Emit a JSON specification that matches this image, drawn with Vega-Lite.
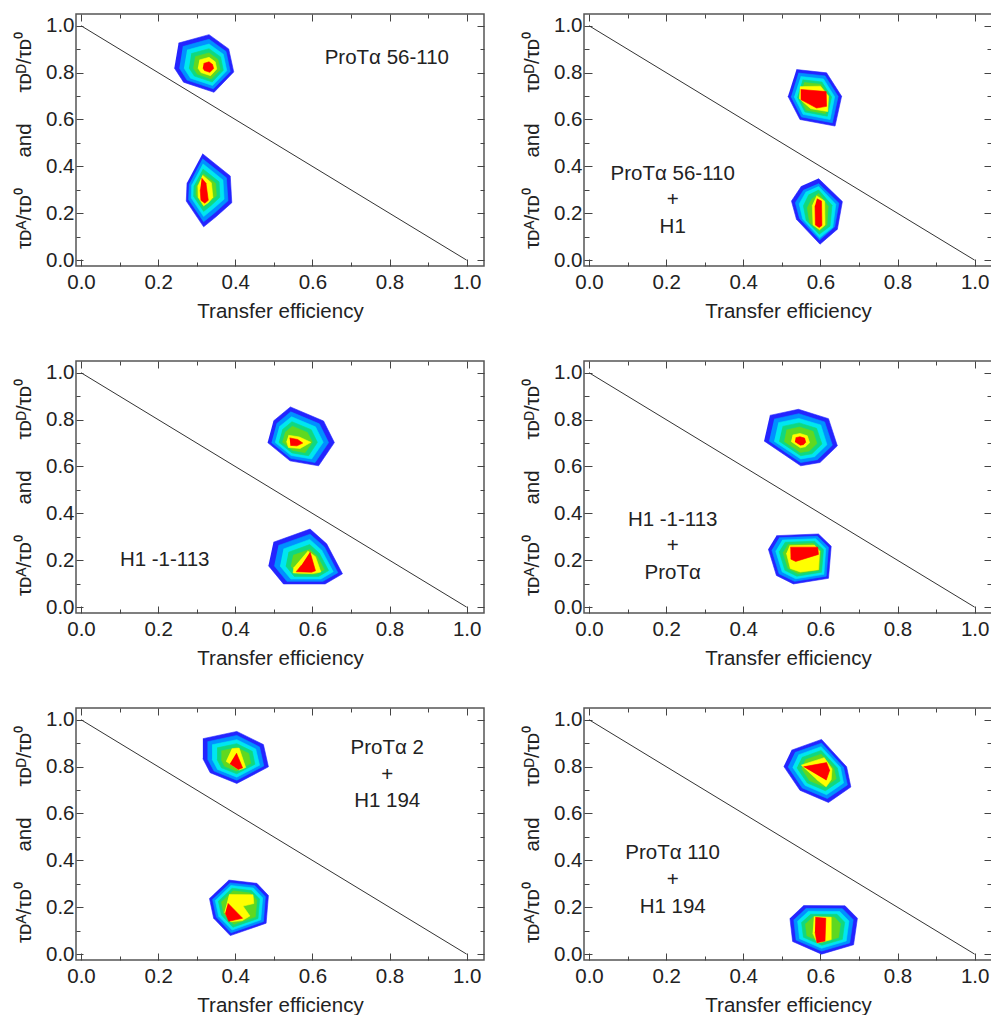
{
"$schema": "https://vega.github.io/schema/vega-lite/v6.json",
"padding": {"left": 13, "top": 12, "right": 0, "bottom": 0},
"background": "white",
"config": {
 "view": {"stroke": "#555", "strokeWidth": 1.5},
 "font": "Liberation Sans",
 "axis": {"domain": false, "grid": false, "labelFontSize": 20.5, "titleFontSize": 20.5, "titleFontWeight": "normal", "labelColor": "#222", "titleColor": "#222", "tickColor": "#444", "tickWidth": 1, "labelFlush": false, "labelOverlap": false, "labelFont": "Liberation Sans", "titleFont": "Liberation Sans"}
},
"datasets": {
 "diag": [{"x": 0, "y": 1}, {"x": 1, "y": 0}],
 "labels": [
  {"p": 1, "x": 0.793, "y": 0.862, "t": "ProTα 56-110"},
  {"p": 2, "x": 0.217, "y": 0.369, "t": "ProTα 56-110\n+\nH1"},
  {"p": 3, "x": 0.217, "y": 0.199, "t": "H1 -1-113"},
  {"p": 4, "x": 0.217, "y": 0.373, "t": "H1 -1-113\n+\nProTα"},
  {"p": 5, "x": 0.794, "y": 0.879, "t": "ProTα 2\n+\nH1 194"},
  {"p": 6, "x": 0.217, "y": 0.430, "t": "ProTα 110\n+\nH1 194"}
 ],
 "blobs": [
{"p":1,"b":1,"l":1,"i":0,"x":0.253,"y":0.926},{"p":1,"b":1,"l":1,"i":1,"x":0.332,"y":0.962},{"p":1,"b":1,"l":1,"i":2,"x":0.383,"y":0.901},{"p":1,"b":1,"l":1,"i":3,"x":0.396,"y":0.803},{"p":1,"b":1,"l":1,"i":4,"x":0.345,"y":0.716},{"p":1,"b":1,"l":1,"i":5,"x":0.266,"y":0.759},{"p":1,"b":1,"l":1,"i":6,"x":0.242,"y":0.820},
{"p":1,"b":1,"l":2,"i":0,"x":0.264,"y":0.911},{"p":1,"b":1,"l":2,"i":1,"x":0.332,"y":0.942},{"p":1,"b":1,"l":2,"i":2,"x":0.376,"y":0.890},{"p":1,"b":1,"l":2,"i":3,"x":0.387,"y":0.805},{"p":1,"b":1,"l":2,"i":4,"x":0.343,"y":0.731},{"p":1,"b":1,"l":2,"i":5,"x":0.275,"y":0.768},{"p":1,"b":1,"l":2,"i":6,"x":0.255,"y":0.820},
{"p":1,"b":1,"l":3,"i":0,"x":0.275,"y":0.896},{"p":1,"b":1,"l":3,"i":1,"x":0.332,"y":0.922},{"p":1,"b":1,"l":3,"i":2,"x":0.369,"y":0.878},{"p":1,"b":1,"l":3,"i":3,"x":0.378,"y":0.808},{"p":1,"b":1,"l":3,"i":4,"x":0.341,"y":0.745},{"p":1,"b":1,"l":3,"i":5,"x":0.284,"y":0.776},{"p":1,"b":1,"l":3,"i":6,"x":0.267,"y":0.820},
{"p":1,"b":1,"l":4,"i":0,"x":0.286,"y":0.881},{"p":1,"b":1,"l":4,"i":1,"x":0.332,"y":0.902},{"p":1,"b":1,"l":4,"i":2,"x":0.362,"y":0.867},{"p":1,"b":1,"l":4,"i":3,"x":0.369,"y":0.810},{"p":1,"b":1,"l":4,"i":4,"x":0.340,"y":0.760},{"p":1,"b":1,"l":4,"i":5,"x":0.294,"y":0.785},{"p":1,"b":1,"l":4,"i":6,"x":0.280,"y":0.820},
{"p":1,"b":1,"l":5,"i":0,"x":0.296,"y":0.868},{"p":1,"b":1,"l":5,"i":1,"x":0.332,"y":0.884},{"p":1,"b":1,"l":5,"i":2,"x":0.355,"y":0.856},{"p":1,"b":1,"l":5,"i":3,"x":0.361,"y":0.812},{"p":1,"b":1,"l":5,"i":4,"x":0.338,"y":0.773},{"p":1,"b":1,"l":5,"i":5,"x":0.302,"y":0.793},{"p":1,"b":1,"l":5,"i":6,"x":0.291,"y":0.820},
{"p":1,"b":1,"l":6,"i":0,"x":0.307,"y":0.854},{"p":1,"b":1,"l":6,"i":1,"x":0.332,"y":0.865},{"p":1,"b":1,"l":6,"i":2,"x":0.348,"y":0.846},{"p":1,"b":1,"l":6,"i":3,"x":0.352,"y":0.815},{"p":1,"b":1,"l":6,"i":4,"x":0.336,"y":0.787},{"p":1,"b":1,"l":6,"i":5,"x":0.311,"y":0.800},{"p":1,"b":1,"l":6,"i":6,"x":0.303,"y":0.820},
{"p":1,"b":1,"l":7,"i":0,"x":0.318,"y":0.839},{"p":1,"b":1,"l":7,"i":1,"x":0.332,"y":0.846},{"p":1,"b":1,"l":7,"i":2,"x":0.341,"y":0.835},{"p":1,"b":1,"l":7,"i":3,"x":0.344,"y":0.817},{"p":1,"b":1,"l":7,"i":4,"x":0.334,"y":0.801},{"p":1,"b":1,"l":7,"i":5,"x":0.320,"y":0.809},{"p":1,"b":1,"l":7,"i":6,"x":0.316,"y":0.820},
{"p":1,"b":2,"l":1,"i":0,"x":0.315,"y":0.454},{"p":1,"b":2,"l":1,"i":1,"x":0.387,"y":0.359},{"p":1,"b":2,"l":1,"i":2,"x":0.391,"y":0.245},{"p":1,"b":2,"l":1,"i":3,"x":0.350,"y":0.185},{"p":1,"b":2,"l":1,"i":4,"x":0.318,"y":0.142},{"p":1,"b":2,"l":1,"i":5,"x":0.273,"y":0.252},{"p":1,"b":2,"l":1,"i":6,"x":0.275,"y":0.330},
{"p":1,"b":2,"l":2,"i":0,"x":0.315,"y":0.432},{"p":1,"b":2,"l":2,"i":1,"x":0.377,"y":0.351},{"p":1,"b":2,"l":2,"i":2,"x":0.381,"y":0.253},{"p":1,"b":2,"l":2,"i":3,"x":0.346,"y":0.201},{"p":1,"b":2,"l":2,"i":4,"x":0.318,"y":0.164},{"p":1,"b":2,"l":2,"i":5,"x":0.279,"y":0.259},{"p":1,"b":2,"l":2,"i":6,"x":0.281,"y":0.326},
{"p":1,"b":2,"l":3,"i":0,"x":0.316,"y":0.411},{"p":1,"b":2,"l":3,"i":1,"x":0.368,"y":0.342},{"p":1,"b":2,"l":3,"i":2,"x":0.371,"y":0.260},{"p":1,"b":2,"l":3,"i":3,"x":0.341,"y":0.217},{"p":1,"b":2,"l":3,"i":4,"x":0.318,"y":0.186},{"p":1,"b":2,"l":3,"i":5,"x":0.286,"y":0.265},{"p":1,"b":2,"l":3,"i":6,"x":0.287,"y":0.322},
{"p":1,"b":2,"l":4,"i":0,"x":0.316,"y":0.389},{"p":1,"b":2,"l":4,"i":1,"x":0.358,"y":0.334},{"p":1,"b":2,"l":4,"i":2,"x":0.360,"y":0.268},{"p":1,"b":2,"l":4,"i":3,"x":0.337,"y":0.233},{"p":1,"b":2,"l":4,"i":4,"x":0.318,"y":0.208},{"p":1,"b":2,"l":4,"i":5,"x":0.292,"y":0.272},{"p":1,"b":2,"l":4,"i":6,"x":0.293,"y":0.317},
{"p":1,"b":2,"l":5,"i":0,"x":0.317,"y":0.369},{"p":1,"b":2,"l":5,"i":1,"x":0.349,"y":0.327},{"p":1,"b":2,"l":5,"i":2,"x":0.351,"y":0.275},{"p":1,"b":2,"l":5,"i":3,"x":0.332,"y":0.248},{"p":1,"b":2,"l":5,"i":4,"x":0.318,"y":0.229},{"p":1,"b":2,"l":5,"i":5,"x":0.298,"y":0.278},{"p":1,"b":2,"l":5,"i":6,"x":0.299,"y":0.314},
{"p":1,"b":2,"l":6,"i":0,"x":0.315,"y":0.362},{"p":1,"b":2,"l":6,"i":1,"x":0.338,"y":0.330},{"p":1,"b":2,"l":6,"i":2,"x":0.342,"y":0.268},{"p":1,"b":2,"l":6,"i":3,"x":0.330,"y":0.245},{"p":1,"b":2,"l":6,"i":4,"x":0.318,"y":0.232},{"p":1,"b":2,"l":6,"i":5,"x":0.304,"y":0.268},{"p":1,"b":2,"l":6,"i":6,"x":0.303,"y":0.318},
{"p":1,"b":2,"l":7,"i":0,"x":0.313,"y":0.350},{"p":1,"b":2,"l":7,"i":1,"x":0.324,"y":0.328},{"p":1,"b":2,"l":7,"i":2,"x":0.330,"y":0.255},{"p":1,"b":2,"l":7,"i":3,"x":0.321,"y":0.243},{"p":1,"b":2,"l":7,"i":4,"x":0.311,"y":0.255},{"p":1,"b":2,"l":7,"i":5,"x":0.309,"y":0.300},
{"p":2,"b":1,"l":1,"i":0,"x":0.538,"y":0.813},{"p":2,"b":1,"l":1,"i":1,"x":0.616,"y":0.799},{"p":2,"b":1,"l":1,"i":2,"x":0.655,"y":0.699},{"p":2,"b":1,"l":1,"i":3,"x":0.638,"y":0.572},{"p":2,"b":1,"l":1,"i":4,"x":0.547,"y":0.600},{"p":2,"b":1,"l":1,"i":5,"x":0.516,"y":0.699},
{"p":2,"b":1,"l":2,"i":0,"x":0.543,"y":0.798},{"p":2,"b":1,"l":2,"i":1,"x":0.612,"y":0.786},{"p":2,"b":1,"l":2,"i":2,"x":0.646,"y":0.698},{"p":2,"b":1,"l":2,"i":3,"x":0.631,"y":0.586},{"p":2,"b":1,"l":2,"i":4,"x":0.551,"y":0.611},{"p":2,"b":1,"l":2,"i":5,"x":0.524,"y":0.698},
{"p":2,"b":1,"l":3,"i":0,"x":0.549,"y":0.783},{"p":2,"b":1,"l":3,"i":1,"x":0.608,"y":0.773},{"p":2,"b":1,"l":3,"i":2,"x":0.637,"y":0.697},{"p":2,"b":1,"l":3,"i":3,"x":0.625,"y":0.600},{"p":2,"b":1,"l":3,"i":4,"x":0.555,"y":0.622},{"p":2,"b":1,"l":3,"i":5,"x":0.532,"y":0.697},
{"p":2,"b":1,"l":4,"i":0,"x":0.554,"y":0.769},{"p":2,"b":1,"l":4,"i":1,"x":0.604,"y":0.760},{"p":2,"b":1,"l":4,"i":2,"x":0.629,"y":0.696},{"p":2,"b":1,"l":4,"i":3,"x":0.618,"y":0.614},{"p":2,"b":1,"l":4,"i":4,"x":0.560,"y":0.632},{"p":2,"b":1,"l":4,"i":5,"x":0.540,"y":0.696},
{"p":2,"b":1,"l":5,"i":0,"x":0.558,"y":0.758},{"p":2,"b":1,"l":5,"i":1,"x":0.601,"y":0.750},{"p":2,"b":1,"l":5,"i":2,"x":0.622,"y":0.695},{"p":2,"b":1,"l":5,"i":3,"x":0.613,"y":0.625},{"p":2,"b":1,"l":5,"i":4,"x":0.563,"y":0.640},{"p":2,"b":1,"l":5,"i":5,"x":0.546,"y":0.695},
{"p":2,"b":1,"l":6,"i":0,"x":0.547,"y":0.740},{"p":2,"b":1,"l":6,"i":1,"x":0.600,"y":0.742},{"p":2,"b":1,"l":6,"i":2,"x":0.621,"y":0.700},{"p":2,"b":1,"l":6,"i":3,"x":0.619,"y":0.634},{"p":2,"b":1,"l":6,"i":4,"x":0.575,"y":0.646},{"p":2,"b":1,"l":6,"i":5,"x":0.545,"y":0.690},
{"p":2,"b":1,"l":7,"i":0,"x":0.549,"y":0.728},{"p":2,"b":1,"l":7,"i":1,"x":0.615,"y":0.719},{"p":2,"b":1,"l":7,"i":2,"x":0.616,"y":0.656},{"p":2,"b":1,"l":7,"i":3,"x":0.590,"y":0.649},{"p":2,"b":1,"l":7,"i":4,"x":0.549,"y":0.685},
{"p":2,"b":2,"l":1,"i":0,"x":0.595,"y":0.348},{"p":2,"b":2,"l":1,"i":1,"x":0.657,"y":0.250},{"p":2,"b":2,"l":1,"i":2,"x":0.644,"y":0.132},{"p":2,"b":2,"l":1,"i":3,"x":0.599,"y":0.068},{"p":2,"b":2,"l":1,"i":4,"x":0.538,"y":0.174},{"p":2,"b":2,"l":1,"i":5,"x":0.525,"y":0.252},{"p":2,"b":2,"l":1,"i":6,"x":0.551,"y":0.316},
{"p":2,"b":2,"l":2,"i":0,"x":0.595,"y":0.327},{"p":2,"b":2,"l":2,"i":1,"x":0.648,"y":0.243},{"p":2,"b":2,"l":2,"i":2,"x":0.637,"y":0.142},{"p":2,"b":2,"l":2,"i":3,"x":0.598,"y":0.086},{"p":2,"b":2,"l":2,"i":4,"x":0.546,"y":0.178},{"p":2,"b":2,"l":2,"i":5,"x":0.535,"y":0.245},{"p":2,"b":2,"l":2,"i":6,"x":0.557,"y":0.300},
{"p":2,"b":2,"l":3,"i":0,"x":0.595,"y":0.315},{"p":2,"b":2,"l":3,"i":1,"x":0.640,"y":0.238},{"p":2,"b":2,"l":3,"i":2,"x":0.632,"y":0.140},{"p":2,"b":2,"l":3,"i":3,"x":0.598,"y":0.095},{"p":2,"b":2,"l":3,"i":4,"x":0.554,"y":0.176},{"p":2,"b":2,"l":3,"i":5,"x":0.545,"y":0.240},{"p":2,"b":2,"l":3,"i":6,"x":0.563,"y":0.292},
{"p":2,"b":2,"l":4,"i":0,"x":0.595,"y":0.300},{"p":2,"b":2,"l":4,"i":1,"x":0.630,"y":0.234},{"p":2,"b":2,"l":4,"i":2,"x":0.625,"y":0.145},{"p":2,"b":2,"l":4,"i":3,"x":0.597,"y":0.110},{"p":2,"b":2,"l":4,"i":4,"x":0.563,"y":0.170},{"p":2,"b":2,"l":4,"i":5,"x":0.556,"y":0.232},{"p":2,"b":2,"l":4,"i":6,"x":0.570,"y":0.280},
{"p":2,"b":2,"l":5,"i":0,"x":0.595,"y":0.285},{"p":2,"b":2,"l":5,"i":1,"x":0.620,"y":0.230},{"p":2,"b":2,"l":5,"i":2,"x":0.617,"y":0.150},{"p":2,"b":2,"l":5,"i":3,"x":0.597,"y":0.125},{"p":2,"b":2,"l":5,"i":4,"x":0.572,"y":0.160},{"p":2,"b":2,"l":5,"i":5,"x":0.566,"y":0.223},{"p":2,"b":2,"l":5,"i":6,"x":0.578,"y":0.262},
{"p":2,"b":2,"l":6,"i":0,"x":0.590,"y":0.275},{"p":2,"b":2,"l":6,"i":1,"x":0.611,"y":0.252},{"p":2,"b":2,"l":6,"i":2,"x":0.612,"y":0.150},{"p":2,"b":2,"l":6,"i":3,"x":0.598,"y":0.130},{"p":2,"b":2,"l":6,"i":4,"x":0.581,"y":0.150},{"p":2,"b":2,"l":6,"i":5,"x":0.579,"y":0.235},
{"p":2,"b":2,"l":7,"i":0,"x":0.591,"y":0.262},{"p":2,"b":2,"l":7,"i":1,"x":0.603,"y":0.252},{"p":2,"b":2,"l":7,"i":2,"x":0.604,"y":0.148},{"p":2,"b":2,"l":7,"i":3,"x":0.597,"y":0.139},{"p":2,"b":2,"l":7,"i":4,"x":0.587,"y":0.150},{"p":2,"b":2,"l":7,"i":5,"x":0.586,"y":0.232},
{"p":3,"b":1,"l":1,"i":0,"x":0.499,"y":0.794},{"p":3,"b":1,"l":1,"i":1,"x":0.543,"y":0.854},{"p":3,"b":1,"l":1,"i":2,"x":0.629,"y":0.794},{"p":3,"b":1,"l":1,"i":3,"x":0.657,"y":0.702},{"p":3,"b":1,"l":1,"i":4,"x":0.616,"y":0.603},{"p":3,"b":1,"l":1,"i":5,"x":0.542,"y":0.624},{"p":3,"b":1,"l":1,"i":6,"x":0.484,"y":0.702},
{"p":3,"b":1,"l":2,"i":0,"x":0.507,"y":0.782},{"p":3,"b":1,"l":2,"i":1,"x":0.544,"y":0.833},{"p":3,"b":1,"l":2,"i":2,"x":0.618,"y":0.782},{"p":3,"b":1,"l":2,"i":3,"x":0.642,"y":0.702},{"p":3,"b":1,"l":2,"i":4,"x":0.607,"y":0.617},{"p":3,"b":1,"l":2,"i":5,"x":0.544,"y":0.635},{"p":3,"b":1,"l":2,"i":6,"x":0.494,"y":0.702},
{"p":3,"b":1,"l":3,"i":0,"x":0.514,"y":0.769},{"p":3,"b":1,"l":3,"i":1,"x":0.546,"y":0.812},{"p":3,"b":1,"l":3,"i":2,"x":0.608,"y":0.769},{"p":3,"b":1,"l":3,"i":3,"x":0.628,"y":0.703},{"p":3,"b":1,"l":3,"i":4,"x":0.598,"y":0.632},{"p":3,"b":1,"l":3,"i":5,"x":0.545,"y":0.647},{"p":3,"b":1,"l":3,"i":6,"x":0.503,"y":0.703},
{"p":3,"b":1,"l":4,"i":0,"x":0.522,"y":0.757},{"p":3,"b":1,"l":4,"i":1,"x":0.547,"y":0.791},{"p":3,"b":1,"l":4,"i":2,"x":0.597,"y":0.757},{"p":3,"b":1,"l":4,"i":3,"x":0.613,"y":0.703},{"p":3,"b":1,"l":4,"i":4,"x":0.590,"y":0.646},{"p":3,"b":1,"l":4,"i":5,"x":0.547,"y":0.658},{"p":3,"b":1,"l":4,"i":6,"x":0.513,"y":0.703},
{"p":3,"b":1,"l":5,"i":0,"x":0.529,"y":0.745},{"p":3,"b":1,"l":5,"i":1,"x":0.548,"y":0.772},{"p":3,"b":1,"l":5,"i":2,"x":0.587,"y":0.745},{"p":3,"b":1,"l":5,"i":3,"x":0.600,"y":0.704},{"p":3,"b":1,"l":5,"i":4,"x":0.581,"y":0.659},{"p":3,"b":1,"l":5,"i":5,"x":0.548,"y":0.669},{"p":3,"b":1,"l":5,"i":6,"x":0.522,"y":0.704},
{"p":3,"b":1,"l":6,"i":0,"x":0.538,"y":0.733},{"p":3,"b":1,"l":6,"i":1,"x":0.566,"y":0.726},{"p":3,"b":1,"l":6,"i":2,"x":0.596,"y":0.703},{"p":3,"b":1,"l":6,"i":3,"x":0.568,"y":0.677},{"p":3,"b":1,"l":6,"i":4,"x":0.538,"y":0.681},{"p":3,"b":1,"l":6,"i":5,"x":0.533,"y":0.707},
{"p":3,"b":1,"l":7,"i":0,"x":0.541,"y":0.722},{"p":3,"b":1,"l":7,"i":1,"x":0.562,"y":0.715},{"p":3,"b":1,"l":7,"i":2,"x":0.575,"y":0.700},{"p":3,"b":1,"l":7,"i":3,"x":0.560,"y":0.688},{"p":3,"b":1,"l":7,"i":4,"x":0.543,"y":0.690},
{"p":3,"b":2,"l":1,"i":0,"x":0.499,"y":0.277},{"p":3,"b":2,"l":1,"i":1,"x":0.594,"y":0.333},{"p":3,"b":2,"l":1,"i":2,"x":0.637,"y":0.270},{"p":3,"b":2,"l":1,"i":3,"x":0.678,"y":0.142},{"p":3,"b":2,"l":1,"i":4,"x":0.633,"y":0.099},{"p":3,"b":2,"l":1,"i":5,"x":0.525,"y":0.099},{"p":3,"b":2,"l":1,"i":6,"x":0.486,"y":0.177},
{"p":3,"b":2,"l":2,"i":0,"x":0.512,"y":0.263},{"p":3,"b":2,"l":2,"i":1,"x":0.594,"y":0.311},{"p":3,"b":2,"l":2,"i":2,"x":0.631,"y":0.257},{"p":3,"b":2,"l":2,"i":3,"x":0.666,"y":0.147},{"p":3,"b":2,"l":2,"i":4,"x":0.627,"y":0.110},{"p":3,"b":2,"l":2,"i":5,"x":0.534,"y":0.110},{"p":3,"b":2,"l":2,"i":6,"x":0.501,"y":0.177},
{"p":3,"b":2,"l":3,"i":0,"x":0.525,"y":0.248},{"p":3,"b":2,"l":3,"i":1,"x":0.593,"y":0.289},{"p":3,"b":2,"l":3,"i":2,"x":0.624,"y":0.243},{"p":3,"b":2,"l":3,"i":3,"x":0.654,"y":0.151},{"p":3,"b":2,"l":3,"i":4,"x":0.622,"y":0.120},{"p":3,"b":2,"l":3,"i":5,"x":0.544,"y":0.120},{"p":3,"b":2,"l":3,"i":6,"x":0.516,"y":0.176},
{"p":3,"b":2,"l":4,"i":0,"x":0.538,"y":0.234},{"p":3,"b":2,"l":4,"i":1,"x":0.593,"y":0.267},{"p":3,"b":2,"l":4,"i":2,"x":0.618,"y":0.230},{"p":3,"b":2,"l":4,"i":3,"x":0.642,"y":0.156},{"p":3,"b":2,"l":4,"i":4,"x":0.616,"y":0.131},{"p":3,"b":2,"l":4,"i":5,"x":0.553,"y":0.131},{"p":3,"b":2,"l":4,"i":6,"x":0.531,"y":0.176},
{"p":3,"b":2,"l":5,"i":0,"x":0.550,"y":0.221},{"p":3,"b":2,"l":5,"i":1,"x":0.593,"y":0.246},{"p":3,"b":2,"l":5,"i":2,"x":0.612,"y":0.218},{"p":3,"b":2,"l":5,"i":3,"x":0.631,"y":0.160},{"p":3,"b":2,"l":5,"i":4,"x":0.610,"y":0.141},{"p":3,"b":2,"l":5,"i":5,"x":0.562,"y":0.141},{"p":3,"b":2,"l":5,"i":6,"x":0.544,"y":0.176},
{"p":3,"b":2,"l":6,"i":0,"x":0.588,"y":0.240},{"p":3,"b":2,"l":6,"i":1,"x":0.608,"y":0.215},{"p":3,"b":2,"l":6,"i":2,"x":0.622,"y":0.150},{"p":3,"b":2,"l":6,"i":3,"x":0.600,"y":0.143},{"p":3,"b":2,"l":6,"i":4,"x":0.550,"y":0.146},{"p":3,"b":2,"l":6,"i":5,"x":0.552,"y":0.170},
{"p":3,"b":2,"l":7,"i":0,"x":0.594,"y":0.235},{"p":3,"b":2,"l":7,"i":1,"x":0.608,"y":0.155},{"p":3,"b":2,"l":7,"i":2,"x":0.598,"y":0.149},{"p":3,"b":2,"l":7,"i":3,"x":0.558,"y":0.151},{"p":3,"b":2,"l":7,"i":4,"x":0.572,"y":0.180},
{"p":4,"b":1,"l":1,"i":0,"x":0.469,"y":0.818},{"p":4,"b":1,"l":1,"i":1,"x":0.543,"y":0.844},{"p":4,"b":1,"l":1,"i":2,"x":0.621,"y":0.804},{"p":4,"b":1,"l":1,"i":3,"x":0.644,"y":0.688},{"p":4,"b":1,"l":1,"i":4,"x":0.599,"y":0.617},{"p":4,"b":1,"l":1,"i":5,"x":0.549,"y":0.603},{"p":4,"b":1,"l":1,"i":6,"x":0.454,"y":0.709},
{"p":4,"b":1,"l":2,"i":0,"x":0.480,"y":0.802},{"p":4,"b":1,"l":2,"i":1,"x":0.544,"y":0.825},{"p":4,"b":1,"l":2,"i":2,"x":0.611,"y":0.790},{"p":4,"b":1,"l":2,"i":3,"x":0.631,"y":0.691},{"p":4,"b":1,"l":2,"i":4,"x":0.592,"y":0.629},{"p":4,"b":1,"l":2,"i":5,"x":0.549,"y":0.617},{"p":4,"b":1,"l":2,"i":6,"x":0.467,"y":0.709},
{"p":4,"b":1,"l":3,"i":0,"x":0.491,"y":0.787},{"p":4,"b":1,"l":3,"i":1,"x":0.544,"y":0.805},{"p":4,"b":1,"l":3,"i":2,"x":0.601,"y":0.777},{"p":4,"b":1,"l":3,"i":3,"x":0.617,"y":0.693},{"p":4,"b":1,"l":3,"i":4,"x":0.585,"y":0.642},{"p":4,"b":1,"l":3,"i":5,"x":0.549,"y":0.632},{"p":4,"b":1,"l":3,"i":6,"x":0.480,"y":0.708},
{"p":4,"b":1,"l":4,"i":0,"x":0.502,"y":0.771},{"p":4,"b":1,"l":4,"i":1,"x":0.545,"y":0.786},{"p":4,"b":1,"l":4,"i":2,"x":0.590,"y":0.763},{"p":4,"b":1,"l":4,"i":3,"x":0.604,"y":0.696},{"p":4,"b":1,"l":4,"i":4,"x":0.578,"y":0.654},{"p":4,"b":1,"l":4,"i":5,"x":0.549,"y":0.646},{"p":4,"b":1,"l":4,"i":6,"x":0.493,"y":0.708},
{"p":4,"b":1,"l":5,"i":0,"x":0.512,"y":0.756},{"p":4,"b":1,"l":5,"i":1,"x":0.546,"y":0.768},{"p":4,"b":1,"l":5,"i":2,"x":0.581,"y":0.750},{"p":4,"b":1,"l":5,"i":3,"x":0.591,"y":0.698},{"p":4,"b":1,"l":5,"i":4,"x":0.571,"y":0.666},{"p":4,"b":1,"l":5,"i":5,"x":0.548,"y":0.660},{"p":4,"b":1,"l":5,"i":6,"x":0.506,"y":0.707},
{"p":4,"b":1,"l":6,"i":0,"x":0.528,"y":0.734},{"p":4,"b":1,"l":6,"i":1,"x":0.547,"y":0.741},{"p":4,"b":1,"l":6,"i":2,"x":0.566,"y":0.731},{"p":4,"b":1,"l":6,"i":3,"x":0.572,"y":0.701},{"p":4,"b":1,"l":6,"i":4,"x":0.561,"y":0.684},{"p":4,"b":1,"l":6,"i":5,"x":0.548,"y":0.680},{"p":4,"b":1,"l":6,"i":6,"x":0.524,"y":0.707},
{"p":4,"b":1,"l":7,"i":0,"x":0.536,"y":0.723},{"p":4,"b":1,"l":7,"i":1,"x":0.547,"y":0.727},{"p":4,"b":1,"l":7,"i":2,"x":0.559,"y":0.721},{"p":4,"b":1,"l":7,"i":3,"x":0.562,"y":0.703},{"p":4,"b":1,"l":7,"i":4,"x":0.556,"y":0.693},{"p":4,"b":1,"l":7,"i":5,"x":0.548,"y":0.691},{"p":4,"b":1,"l":7,"i":6,"x":0.534,"y":0.706},
{"p":4,"b":2,"l":1,"i":0,"x":0.486,"y":0.305},{"p":4,"b":2,"l":1,"i":1,"x":0.595,"y":0.312},{"p":4,"b":2,"l":1,"i":2,"x":0.628,"y":0.260},{"p":4,"b":2,"l":1,"i":3,"x":0.621,"y":0.123},{"p":4,"b":2,"l":1,"i":4,"x":0.530,"y":0.099},{"p":4,"b":2,"l":1,"i":5,"x":0.486,"y":0.135},{"p":4,"b":2,"l":1,"i":6,"x":0.465,"y":0.248},
{"p":4,"b":2,"l":2,"i":0,"x":0.493,"y":0.296},{"p":4,"b":2,"l":2,"i":1,"x":0.592,"y":0.302},{"p":4,"b":2,"l":2,"i":2,"x":0.621,"y":0.255},{"p":4,"b":2,"l":2,"i":3,"x":0.615,"y":0.132},{"p":4,"b":2,"l":2,"i":4,"x":0.533,"y":0.110},{"p":4,"b":2,"l":2,"i":5,"x":0.493,"y":0.142},{"p":4,"b":2,"l":2,"i":6,"x":0.474,"y":0.244},
{"p":4,"b":2,"l":3,"i":0,"x":0.501,"y":0.286},{"p":4,"b":2,"l":3,"i":1,"x":0.588,"y":0.292},{"p":4,"b":2,"l":3,"i":2,"x":0.614,"y":0.250},{"p":4,"b":2,"l":3,"i":3,"x":0.609,"y":0.140},{"p":4,"b":2,"l":3,"i":4,"x":0.536,"y":0.121},{"p":4,"b":2,"l":3,"i":5,"x":0.501,"y":0.150},{"p":4,"b":2,"l":3,"i":6,"x":0.484,"y":0.240},
{"p":4,"b":2,"l":4,"i":0,"x":0.508,"y":0.277},{"p":4,"b":2,"l":4,"i":1,"x":0.585,"y":0.281},{"p":4,"b":2,"l":4,"i":2,"x":0.608,"y":0.245},{"p":4,"b":2,"l":4,"i":3,"x":0.603,"y":0.149},{"p":4,"b":2,"l":4,"i":4,"x":0.539,"y":0.132},{"p":4,"b":2,"l":4,"i":5,"x":0.508,"y":0.157},{"p":4,"b":2,"l":4,"i":6,"x":0.493,"y":0.237},
{"p":4,"b":2,"l":5,"i":0,"x":0.516,"y":0.267},{"p":4,"b":2,"l":5,"i":1,"x":0.581,"y":0.271},{"p":4,"b":2,"l":5,"i":2,"x":0.601,"y":0.240},{"p":4,"b":2,"l":5,"i":3,"x":0.597,"y":0.158},{"p":4,"b":2,"l":5,"i":4,"x":0.542,"y":0.143},{"p":4,"b":2,"l":5,"i":5,"x":0.516,"y":0.165},{"p":4,"b":2,"l":5,"i":6,"x":0.503,"y":0.233},
{"p":4,"b":2,"l":6,"i":0,"x":0.520,"y":0.262},{"p":4,"b":2,"l":6,"i":1,"x":0.585,"y":0.264},{"p":4,"b":2,"l":6,"i":2,"x":0.598,"y":0.238},{"p":4,"b":2,"l":6,"i":3,"x":0.595,"y":0.160},{"p":4,"b":2,"l":6,"i":4,"x":0.548,"y":0.150},{"p":4,"b":2,"l":6,"i":5,"x":0.522,"y":0.165},{"p":4,"b":2,"l":6,"i":6,"x":0.512,"y":0.230},
{"p":4,"b":2,"l":7,"i":0,"x":0.522,"y":0.256},{"p":4,"b":2,"l":7,"i":1,"x":0.593,"y":0.256},{"p":4,"b":2,"l":7,"i":2,"x":0.595,"y":0.225},{"p":4,"b":2,"l":7,"i":3,"x":0.536,"y":0.195},{"p":4,"b":2,"l":7,"i":4,"x":0.523,"y":0.205},
{"p":5,"b":1,"l":1,"i":0,"x":0.316,"y":0.919},{"p":5,"b":1,"l":1,"i":1,"x":0.404,"y":0.950},{"p":5,"b":1,"l":1,"i":2,"x":0.473,"y":0.894},{"p":5,"b":1,"l":1,"i":3,"x":0.486,"y":0.799},{"p":5,"b":1,"l":1,"i":4,"x":0.404,"y":0.728},{"p":5,"b":1,"l":1,"i":5,"x":0.335,"y":0.774},{"p":5,"b":1,"l":1,"i":6,"x":0.316,"y":0.834},
{"p":5,"b":1,"l":2,"i":0,"x":0.328,"y":0.906},{"p":5,"b":1,"l":2,"i":1,"x":0.404,"y":0.933},{"p":5,"b":1,"l":2,"i":2,"x":0.463,"y":0.884},{"p":5,"b":1,"l":2,"i":3,"x":0.474,"y":0.803},{"p":5,"b":1,"l":2,"i":4,"x":0.404,"y":0.742},{"p":5,"b":1,"l":2,"i":5,"x":0.345,"y":0.781},{"p":5,"b":1,"l":2,"i":6,"x":0.328,"y":0.833},
{"p":5,"b":1,"l":3,"i":0,"x":0.340,"y":0.893},{"p":5,"b":1,"l":3,"i":1,"x":0.404,"y":0.915},{"p":5,"b":1,"l":3,"i":2,"x":0.453,"y":0.875},{"p":5,"b":1,"l":3,"i":3,"x":0.463,"y":0.806},{"p":5,"b":1,"l":3,"i":4,"x":0.404,"y":0.755},{"p":5,"b":1,"l":3,"i":5,"x":0.354,"y":0.788},{"p":5,"b":1,"l":3,"i":6,"x":0.340,"y":0.831},
{"p":5,"b":1,"l":4,"i":0,"x":0.353,"y":0.880},{"p":5,"b":1,"l":4,"i":1,"x":0.404,"y":0.898},{"p":5,"b":1,"l":4,"i":2,"x":0.444,"y":0.865},{"p":5,"b":1,"l":4,"i":3,"x":0.451,"y":0.810},{"p":5,"b":1,"l":4,"i":4,"x":0.404,"y":0.769},{"p":5,"b":1,"l":4,"i":5,"x":0.364,"y":0.795},{"p":5,"b":1,"l":4,"i":6,"x":0.353,"y":0.830},
{"p":5,"b":1,"l":5,"i":0,"x":0.364,"y":0.867},{"p":5,"b":1,"l":5,"i":1,"x":0.403,"y":0.881},{"p":5,"b":1,"l":5,"i":2,"x":0.435,"y":0.856},{"p":5,"b":1,"l":5,"i":3,"x":0.440,"y":0.813},{"p":5,"b":1,"l":5,"i":4,"x":0.403,"y":0.781},{"p":5,"b":1,"l":5,"i":5,"x":0.372,"y":0.802},{"p":5,"b":1,"l":5,"i":6,"x":0.364,"y":0.829},
{"p":5,"b":1,"l":6,"i":0,"x":0.391,"y":0.876},{"p":5,"b":1,"l":6,"i":1,"x":0.410,"y":0.879},{"p":5,"b":1,"l":6,"i":2,"x":0.427,"y":0.796},{"p":5,"b":1,"l":6,"i":3,"x":0.410,"y":0.785},{"p":5,"b":1,"l":6,"i":4,"x":0.376,"y":0.823},
{"p":5,"b":1,"l":7,"i":0,"x":0.403,"y":0.858},{"p":5,"b":1,"l":7,"i":1,"x":0.419,"y":0.795},{"p":5,"b":1,"l":7,"i":2,"x":0.408,"y":0.788},{"p":5,"b":1,"l":7,"i":3,"x":0.386,"y":0.812},
{"p":5,"b":2,"l":1,"i":0,"x":0.383,"y":0.316},{"p":5,"b":2,"l":1,"i":1,"x":0.456,"y":0.302},{"p":5,"b":2,"l":1,"i":2,"x":0.486,"y":0.250},{"p":5,"b":2,"l":1,"i":3,"x":0.480,"y":0.132},{"p":5,"b":2,"l":1,"i":4,"x":0.387,"y":0.079},{"p":5,"b":2,"l":1,"i":5,"x":0.344,"y":0.153},{"p":5,"b":2,"l":1,"i":6,"x":0.333,"y":0.238},
{"p":5,"b":2,"l":2,"i":0,"x":0.386,"y":0.304},{"p":5,"b":2,"l":2,"i":1,"x":0.451,"y":0.292},{"p":5,"b":2,"l":2,"i":2,"x":0.478,"y":0.245},{"p":5,"b":2,"l":2,"i":3,"x":0.473,"y":0.139},{"p":5,"b":2,"l":2,"i":4,"x":0.389,"y":0.091},{"p":5,"b":2,"l":2,"i":5,"x":0.351,"y":0.158},{"p":5,"b":2,"l":2,"i":6,"x":0.341,"y":0.234},
{"p":5,"b":2,"l":3,"i":0,"x":0.388,"y":0.293},{"p":5,"b":2,"l":3,"i":1,"x":0.447,"y":0.282},{"p":5,"b":2,"l":3,"i":2,"x":0.471,"y":0.240},{"p":5,"b":2,"l":3,"i":3,"x":0.466,"y":0.146},{"p":5,"b":2,"l":3,"i":4,"x":0.392,"y":0.103},{"p":5,"b":2,"l":3,"i":5,"x":0.357,"y":0.162},{"p":5,"b":2,"l":3,"i":6,"x":0.348,"y":0.230},
{"p":5,"b":2,"l":4,"i":0,"x":0.391,"y":0.281},{"p":5,"b":2,"l":4,"i":1,"x":0.442,"y":0.271},{"p":5,"b":2,"l":4,"i":2,"x":0.463,"y":0.235},{"p":5,"b":2,"l":4,"i":3,"x":0.459,"y":0.152},{"p":5,"b":2,"l":4,"i":4,"x":0.394,"y":0.115},{"p":5,"b":2,"l":4,"i":5,"x":0.364,"y":0.167},{"p":5,"b":2,"l":4,"i":6,"x":0.356,"y":0.227},
{"p":5,"b":2,"l":5,"i":0,"x":0.394,"y":0.270},{"p":5,"b":2,"l":5,"i":1,"x":0.438,"y":0.261},{"p":5,"b":2,"l":5,"i":2,"x":0.456,"y":0.230},{"p":5,"b":2,"l":5,"i":3,"x":0.452,"y":0.159},{"p":5,"b":2,"l":5,"i":4,"x":0.396,"y":0.127},{"p":5,"b":2,"l":5,"i":5,"x":0.370,"y":0.172},{"p":5,"b":2,"l":5,"i":6,"x":0.364,"y":0.223},
{"p":5,"b":2,"l":6,"i":0,"x":0.384,"y":0.254},{"p":5,"b":2,"l":6,"i":1,"x":0.446,"y":0.253},{"p":5,"b":2,"l":6,"i":2,"x":0.448,"y":0.216},{"p":5,"b":2,"l":6,"i":3,"x":0.420,"y":0.205},{"p":5,"b":2,"l":6,"i":4,"x":0.438,"y":0.163},{"p":5,"b":2,"l":6,"i":5,"x":0.418,"y":0.143},{"p":5,"b":2,"l":6,"i":6,"x":0.388,"y":0.138},{"p":5,"b":2,"l":6,"i":7,"x":0.372,"y":0.180},
{"p":5,"b":2,"l":7,"i":0,"x":0.381,"y":0.217},{"p":5,"b":2,"l":7,"i":1,"x":0.419,"y":0.153},{"p":5,"b":2,"l":7,"i":2,"x":0.383,"y":0.140},{"p":5,"b":2,"l":7,"i":3,"x":0.374,"y":0.175},
{"p":6,"b":1,"l":1,"i":0,"x":0.525,"y":0.870},{"p":6,"b":1,"l":1,"i":1,"x":0.603,"y":0.916},{"p":6,"b":1,"l":1,"i":2,"x":0.668,"y":0.799},{"p":6,"b":1,"l":1,"i":3,"x":0.679,"y":0.713},{"p":6,"b":1,"l":1,"i":4,"x":0.621,"y":0.647},{"p":6,"b":1,"l":1,"i":5,"x":0.547,"y":0.699},{"p":6,"b":1,"l":1,"i":6,"x":0.505,"y":0.801},
{"p":6,"b":1,"l":2,"i":0,"x":0.534,"y":0.860},{"p":6,"b":1,"l":2,"i":1,"x":0.603,"y":0.900},{"p":6,"b":1,"l":2,"i":2,"x":0.660,"y":0.797},{"p":6,"b":1,"l":2,"i":3,"x":0.670,"y":0.722},{"p":6,"b":1,"l":2,"i":4,"x":0.618,"y":0.664},{"p":6,"b":1,"l":2,"i":5,"x":0.553,"y":0.709},{"p":6,"b":1,"l":2,"i":6,"x":0.516,"y":0.799},
{"p":6,"b":1,"l":3,"i":0,"x":0.543,"y":0.850},{"p":6,"b":1,"l":3,"i":1,"x":0.602,"y":0.885},{"p":6,"b":1,"l":3,"i":2,"x":0.652,"y":0.796},{"p":6,"b":1,"l":3,"i":3,"x":0.660,"y":0.730},{"p":6,"b":1,"l":3,"i":4,"x":0.616,"y":0.680},{"p":6,"b":1,"l":3,"i":5,"x":0.560,"y":0.720},{"p":6,"b":1,"l":3,"i":6,"x":0.528,"y":0.797},
{"p":6,"b":1,"l":4,"i":0,"x":0.552,"y":0.839},{"p":6,"b":1,"l":4,"i":1,"x":0.602,"y":0.869},{"p":6,"b":1,"l":4,"i":2,"x":0.644,"y":0.794},{"p":6,"b":1,"l":4,"i":3,"x":0.651,"y":0.739},{"p":6,"b":1,"l":4,"i":4,"x":0.613,"y":0.697},{"p":6,"b":1,"l":4,"i":5,"x":0.566,"y":0.730},{"p":6,"b":1,"l":4,"i":6,"x":0.539,"y":0.795},
{"p":6,"b":1,"l":5,"i":0,"x":0.561,"y":0.829},{"p":6,"b":1,"l":5,"i":1,"x":0.602,"y":0.853},{"p":6,"b":1,"l":5,"i":2,"x":0.635,"y":0.792},{"p":6,"b":1,"l":5,"i":3,"x":0.641,"y":0.748},{"p":6,"b":1,"l":5,"i":4,"x":0.611,"y":0.713},{"p":6,"b":1,"l":5,"i":5,"x":0.572,"y":0.740},{"p":6,"b":1,"l":5,"i":6,"x":0.551,"y":0.793},
{"p":6,"b":1,"l":6,"i":0,"x":0.550,"y":0.806},{"p":6,"b":1,"l":6,"i":1,"x":0.610,"y":0.838},{"p":6,"b":1,"l":6,"i":2,"x":0.630,"y":0.790},{"p":6,"b":1,"l":6,"i":3,"x":0.628,"y":0.745},{"p":6,"b":1,"l":6,"i":4,"x":0.615,"y":0.714},{"p":6,"b":1,"l":6,"i":5,"x":0.590,"y":0.745},
{"p":6,"b":1,"l":7,"i":0,"x":0.556,"y":0.799},{"p":6,"b":1,"l":7,"i":1,"x":0.616,"y":0.817},{"p":6,"b":1,"l":7,"i":2,"x":0.624,"y":0.784},{"p":6,"b":1,"l":7,"i":3,"x":0.615,"y":0.742},
{"p":6,"b":2,"l":1,"i":0,"x":0.556,"y":0.207},{"p":6,"b":2,"l":1,"i":1,"x":0.664,"y":0.206},{"p":6,"b":2,"l":1,"i":2,"x":0.696,"y":0.153},{"p":6,"b":2,"l":1,"i":3,"x":0.686,"y":0.040},{"p":6,"b":2,"l":1,"i":4,"x":0.603,"y":0.000},{"p":6,"b":2,"l":1,"i":5,"x":0.528,"y":0.054},{"p":6,"b":2,"l":1,"i":6,"x":0.521,"y":0.153},
{"p":6,"b":2,"l":2,"i":0,"x":0.562,"y":0.195},{"p":6,"b":2,"l":2,"i":1,"x":0.657,"y":0.194},{"p":6,"b":2,"l":2,"i":2,"x":0.685,"y":0.147},{"p":6,"b":2,"l":2,"i":3,"x":0.676,"y":0.048},{"p":6,"b":2,"l":2,"i":4,"x":0.603,"y":0.013},{"p":6,"b":2,"l":2,"i":5,"x":0.537,"y":0.060},{"p":6,"b":2,"l":2,"i":6,"x":0.531,"y":0.147},
{"p":6,"b":2,"l":3,"i":0,"x":0.568,"y":0.183},{"p":6,"b":2,"l":3,"i":1,"x":0.650,"y":0.182},{"p":6,"b":2,"l":3,"i":2,"x":0.674,"y":0.141},{"p":6,"b":2,"l":3,"i":3,"x":0.667,"y":0.056},{"p":6,"b":2,"l":3,"i":4,"x":0.603,"y":0.025},{"p":6,"b":2,"l":3,"i":5,"x":0.546,"y":0.066},{"p":6,"b":2,"l":3,"i":6,"x":0.541,"y":0.141},
{"p":6,"b":2,"l":4,"i":0,"x":0.574,"y":0.170},{"p":6,"b":2,"l":4,"i":1,"x":0.643,"y":0.170},{"p":6,"b":2,"l":4,"i":2,"x":0.663,"y":0.136},{"p":6,"b":2,"l":4,"i":3,"x":0.657,"y":0.063},{"p":6,"b":2,"l":4,"i":4,"x":0.604,"y":0.038},{"p":6,"b":2,"l":4,"i":5,"x":0.556,"y":0.072},{"p":6,"b":2,"l":4,"i":6,"x":0.551,"y":0.136},
{"p":6,"b":2,"l":5,"i":0,"x":0.580,"y":0.158},{"p":6,"b":2,"l":5,"i":1,"x":0.636,"y":0.158},{"p":6,"b":2,"l":5,"i":2,"x":0.652,"y":0.130},{"p":6,"b":2,"l":5,"i":3,"x":0.647,"y":0.071},{"p":6,"b":2,"l":5,"i":4,"x":0.604,"y":0.050},{"p":6,"b":2,"l":5,"i":5,"x":0.565,"y":0.078},{"p":6,"b":2,"l":5,"i":6,"x":0.561,"y":0.130},
{"p":6,"b":2,"l":6,"i":0,"x":0.583,"y":0.160},{"p":6,"b":2,"l":6,"i":1,"x":0.628,"y":0.157},{"p":6,"b":2,"l":6,"i":2,"x":0.628,"y":0.062},{"p":6,"b":2,"l":6,"i":3,"x":0.592,"y":0.047},{"p":6,"b":2,"l":6,"i":4,"x":0.580,"y":0.090},
{"p":6,"b":2,"l":7,"i":0,"x":0.587,"y":0.157},{"p":6,"b":2,"l":7,"i":1,"x":0.614,"y":0.153},{"p":6,"b":2,"l":7,"i":2,"x":0.612,"y":0.056},{"p":6,"b":2,"l":7,"i":3,"x":0.591,"y":0.049},{"p":6,"b":2,"l":7,"i":4,"x":0.586,"y":0.095}
 ]
},
"columns": 2,
"spacing": {"row": 95, "column": 100},
"bounds": "flush",
"concat": [
 {"width": 408, "height": 252, "resolve": {"axis": {"x": "independent", "y": "independent"}}, "layer": [
  {"data": {"name": "diag"}, "mark": {"type": "line", "color": "#333", "strokeWidth": 1},
   "encoding": {
    "x": {"field": "x", "type": "quantitative", "scale": {"domain": [-0.013, 1.045], "nice": false, "zero": false}, "axis": {"orient": "top", "labels": false, "title": null, "values": [0,0.1,0.2,0.3,0.4,0.5,0.6,0.7,0.8,0.9,1], "tickSize": {"condition": {"test": "round(datum.value*10) % 2 == 0", "value": -7}, "value": -4}}},
    "y": {"field": "y", "type": "quantitative", "scale": {"domain": [-0.025, 1.05], "nice": false, "zero": false}, "axis": {"orient": "right", "labels": false, "title": null, "values": [0,0.1,0.2,0.3,0.4,0.5,0.6,0.7,0.8,0.9,1], "tickSize": {"condition": {"test": "round(datum.value*10) % 2 == 0", "value": -7}, "value": -4}}}}},
  {"data": {"name": "blobs"}, "transform": [{"filter": "datum.p == 1"}], "mark": {"type": "line", "strokeWidth": 0.6},
   "encoding": {
    "x": {"field": "x", "type": "quantitative", "scale": {"domain": [-0.013, 1.045], "nice": false, "zero": false}, "axis": {"orient": "bottom", "title": "Transfer efficiency", "titlePadding": 5, "labelPadding": 13.5, "values": [0,0.1,0.2,0.3,0.4,0.5,0.6,0.7,0.8,0.9,1], "labelExpr": "round(datum.value*10) % 2 == 0 ? format(datum.value, '.1f') : ''", "tickSize": {"condition": {"test": "round(datum.value*10) % 2 == 0", "value": -7}, "value": -4}}},
    "y": {"field": "y", "type": "quantitative", "scale": {"domain": [-0.025, 1.05], "nice": false, "zero": false}, "axis": {"orient": "left", "title": "τᴅᴬ/τᴅ⁰\u2003\u2002and\u2003\u2002τᴅᴰ/τᴅ⁰", "titlePadding": 11, "labelPadding": 9, "values": [0,0.1,0.2,0.3,0.4,0.5,0.6,0.7,0.8,0.9,1], "labelExpr": "round(datum.value*10) % 2 == 0 ? format(datum.value, '.1f') : ''", "tickSize": {"condition": {"test": "round(datum.value*10) % 2 == 0", "value": -7}, "value": -4}}},
    "order": {"field": "i", "type": "quantitative"},
    "detail": {"field": "b"},
    "fill": {"field": "l", "type": "ordinal", "scale": {"domain": [1,2,3,4,5,6,7], "range": ["#2424ff", "#0090ff", "#00e6f0", "#10d880", "#60d820", "#ffff00", "#ff0000"]}, "legend": null},
    "stroke": {"field": "l", "type": "ordinal", "scale": {"domain": [1,2,3,4,5,6,7], "range": ["#2424ff", "#0090ff", "#00e6f0", "#10d880", "#60d820", "#ffff00", "#ff0000"]}, "legend": null}}},
  {"data": {"name": "labels"}, "transform": [{"filter": "datum.p == 1"}], "mark": {"type": "text", "fontSize": 20.5, "lineBreak": "\n", "lineHeight": 26.7, "align": "center", "baseline": "middle", "color": "#222", "font": "Liberation Sans"},
   "encoding": {
    "x": {"field": "x", "type": "quantitative", "scale": {"domain": [-0.013, 1.045], "nice": false, "zero": false}, "axis": null},
    "y": {"field": "y", "type": "quantitative", "scale": {"domain": [-0.025, 1.05], "nice": false, "zero": false}, "axis": null},
    "text": {"field": "t"}}}
 ]},
 {"width": 408, "height": 252, "resolve": {"axis": {"x": "independent", "y": "independent"}}, "layer": [
  {"data": {"name": "diag"}, "mark": {"type": "line", "color": "#333", "strokeWidth": 1},
   "encoding": {
    "x": {"field": "x", "type": "quantitative", "scale": {"domain": [-0.013, 1.045], "nice": false, "zero": false}, "axis": {"orient": "top", "labels": false, "title": null, "values": [0,0.1,0.2,0.3,0.4,0.5,0.6,0.7,0.8,0.9,1], "tickSize": {"condition": {"test": "round(datum.value*10) % 2 == 0", "value": -7}, "value": -4}}},
    "y": {"field": "y", "type": "quantitative", "scale": {"domain": [-0.025, 1.05], "nice": false, "zero": false}, "axis": {"orient": "right", "labels": false, "title": null, "values": [0,0.1,0.2,0.3,0.4,0.5,0.6,0.7,0.8,0.9,1], "tickSize": {"condition": {"test": "round(datum.value*10) % 2 == 0", "value": -8}, "value": -5}}}}},
  {"data": {"name": "blobs"}, "transform": [{"filter": "datum.p == 2"}], "mark": {"type": "line", "strokeWidth": 0.6},
   "encoding": {
    "x": {"field": "x", "type": "quantitative", "scale": {"domain": [-0.013, 1.045], "nice": false, "zero": false}, "axis": {"orient": "bottom", "title": "Transfer efficiency", "titlePadding": 5, "labelPadding": 13.5, "values": [0,0.1,0.2,0.3,0.4,0.5,0.6,0.7,0.8,0.9,1], "labelExpr": "round(datum.value*10) % 2 == 0 ? format(datum.value, '.1f') : ''", "tickSize": {"condition": {"test": "round(datum.value*10) % 2 == 0", "value": -7}, "value": -4}}},
    "y": {"field": "y", "type": "quantitative", "scale": {"domain": [-0.025, 1.05], "nice": false, "zero": false}, "axis": {"orient": "left", "title": "τᴅᴬ/τᴅ⁰\u2003\u2002and\u2003\u2002τᴅᴰ/τᴅ⁰", "titlePadding": 11, "labelPadding": 10, "values": [0,0.1,0.2,0.3,0.4,0.5,0.6,0.7,0.8,0.9,1], "labelExpr": "round(datum.value*10) % 2 == 0 ? format(datum.value, '.1f') : ''", "tickSize": {"condition": {"test": "round(datum.value*10) % 2 == 0", "value": -8}, "value": -5}}},
    "order": {"field": "i", "type": "quantitative"},
    "detail": {"field": "b"},
    "fill": {"field": "l", "type": "ordinal", "scale": {"domain": [1,2,3,4,5,6,7], "range": ["#2424ff", "#0090ff", "#00e6f0", "#10d880", "#60d820", "#ffff00", "#ff0000"]}, "legend": null},
    "stroke": {"field": "l", "type": "ordinal", "scale": {"domain": [1,2,3,4,5,6,7], "range": ["#2424ff", "#0090ff", "#00e6f0", "#10d880", "#60d820", "#ffff00", "#ff0000"]}, "legend": null}}},
  {"data": {"name": "labels"}, "transform": [{"filter": "datum.p == 2"}], "mark": {"type": "text", "fontSize": 20.5, "lineBreak": "\n", "lineHeight": 26.7, "align": "center", "baseline": "middle", "color": "#222", "font": "Liberation Sans"},
   "encoding": {
    "x": {"field": "x", "type": "quantitative", "scale": {"domain": [-0.013, 1.045], "nice": false, "zero": false}, "axis": null},
    "y": {"field": "y", "type": "quantitative", "scale": {"domain": [-0.025, 1.05], "nice": false, "zero": false}, "axis": null},
    "text": {"field": "t"}}}
 ]},
 {"width": 408, "height": 252, "resolve": {"axis": {"x": "independent", "y": "independent"}}, "layer": [
  {"data": {"name": "diag"}, "mark": {"type": "line", "color": "#333", "strokeWidth": 1},
   "encoding": {
    "x": {"field": "x", "type": "quantitative", "scale": {"domain": [-0.013, 1.045], "nice": false, "zero": false}, "axis": {"orient": "top", "labels": false, "title": null, "values": [0,0.1,0.2,0.3,0.4,0.5,0.6,0.7,0.8,0.9,1], "tickSize": {"condition": {"test": "round(datum.value*10) % 2 == 0", "value": -7}, "value": -4}}},
    "y": {"field": "y", "type": "quantitative", "scale": {"domain": [-0.025, 1.05], "nice": false, "zero": false}, "axis": {"orient": "right", "labels": false, "title": null, "values": [0,0.1,0.2,0.3,0.4,0.5,0.6,0.7,0.8,0.9,1], "tickSize": {"condition": {"test": "round(datum.value*10) % 2 == 0", "value": -7}, "value": -4}}}}},
  {"data": {"name": "blobs"}, "transform": [{"filter": "datum.p == 3"}], "mark": {"type": "line", "strokeWidth": 0.6},
   "encoding": {
    "x": {"field": "x", "type": "quantitative", "scale": {"domain": [-0.013, 1.045], "nice": false, "zero": false}, "axis": {"orient": "bottom", "title": "Transfer efficiency", "titlePadding": 5, "labelPadding": 13.5, "values": [0,0.1,0.2,0.3,0.4,0.5,0.6,0.7,0.8,0.9,1], "labelExpr": "round(datum.value*10) % 2 == 0 ? format(datum.value, '.1f') : ''", "tickSize": {"condition": {"test": "round(datum.value*10) % 2 == 0", "value": -7}, "value": -4}}},
    "y": {"field": "y", "type": "quantitative", "scale": {"domain": [-0.025, 1.05], "nice": false, "zero": false}, "axis": {"orient": "left", "title": "τᴅᴬ/τᴅ⁰\u2003\u2002and\u2003\u2002τᴅᴰ/τᴅ⁰", "titlePadding": 11, "labelPadding": 9, "values": [0,0.1,0.2,0.3,0.4,0.5,0.6,0.7,0.8,0.9,1], "labelExpr": "round(datum.value*10) % 2 == 0 ? format(datum.value, '.1f') : ''", "tickSize": {"condition": {"test": "round(datum.value*10) % 2 == 0", "value": -7}, "value": -4}}},
    "order": {"field": "i", "type": "quantitative"},
    "detail": {"field": "b"},
    "fill": {"field": "l", "type": "ordinal", "scale": {"domain": [1,2,3,4,5,6,7], "range": ["#2424ff", "#0090ff", "#00e6f0", "#10d880", "#60d820", "#ffff00", "#ff0000"]}, "legend": null},
    "stroke": {"field": "l", "type": "ordinal", "scale": {"domain": [1,2,3,4,5,6,7], "range": ["#2424ff", "#0090ff", "#00e6f0", "#10d880", "#60d820", "#ffff00", "#ff0000"]}, "legend": null}}},
  {"data": {"name": "labels"}, "transform": [{"filter": "datum.p == 3"}], "mark": {"type": "text", "fontSize": 20.5, "lineBreak": "\n", "lineHeight": 26.7, "align": "center", "baseline": "middle", "color": "#222", "font": "Liberation Sans"},
   "encoding": {
    "x": {"field": "x", "type": "quantitative", "scale": {"domain": [-0.013, 1.045], "nice": false, "zero": false}, "axis": null},
    "y": {"field": "y", "type": "quantitative", "scale": {"domain": [-0.025, 1.05], "nice": false, "zero": false}, "axis": null},
    "text": {"field": "t"}}}
 ]},
 {"width": 408, "height": 252, "resolve": {"axis": {"x": "independent", "y": "independent"}}, "layer": [
  {"data": {"name": "diag"}, "mark": {"type": "line", "color": "#333", "strokeWidth": 1},
   "encoding": {
    "x": {"field": "x", "type": "quantitative", "scale": {"domain": [-0.013, 1.045], "nice": false, "zero": false}, "axis": {"orient": "top", "labels": false, "title": null, "values": [0,0.1,0.2,0.3,0.4,0.5,0.6,0.7,0.8,0.9,1], "tickSize": {"condition": {"test": "round(datum.value*10) % 2 == 0", "value": -7}, "value": -4}}},
    "y": {"field": "y", "type": "quantitative", "scale": {"domain": [-0.025, 1.05], "nice": false, "zero": false}, "axis": {"orient": "right", "labels": false, "title": null, "values": [0,0.1,0.2,0.3,0.4,0.5,0.6,0.7,0.8,0.9,1], "tickSize": {"condition": {"test": "round(datum.value*10) % 2 == 0", "value": -8}, "value": -5}}}}},
  {"data": {"name": "blobs"}, "transform": [{"filter": "datum.p == 4"}], "mark": {"type": "line", "strokeWidth": 0.6},
   "encoding": {
    "x": {"field": "x", "type": "quantitative", "scale": {"domain": [-0.013, 1.045], "nice": false, "zero": false}, "axis": {"orient": "bottom", "title": "Transfer efficiency", "titlePadding": 5, "labelPadding": 13.5, "values": [0,0.1,0.2,0.3,0.4,0.5,0.6,0.7,0.8,0.9,1], "labelExpr": "round(datum.value*10) % 2 == 0 ? format(datum.value, '.1f') : ''", "tickSize": {"condition": {"test": "round(datum.value*10) % 2 == 0", "value": -7}, "value": -4}}},
    "y": {"field": "y", "type": "quantitative", "scale": {"domain": [-0.025, 1.05], "nice": false, "zero": false}, "axis": {"orient": "left", "title": "τᴅᴬ/τᴅ⁰\u2003\u2002and\u2003\u2002τᴅᴰ/τᴅ⁰", "titlePadding": 11, "labelPadding": 10, "values": [0,0.1,0.2,0.3,0.4,0.5,0.6,0.7,0.8,0.9,1], "labelExpr": "round(datum.value*10) % 2 == 0 ? format(datum.value, '.1f') : ''", "tickSize": {"condition": {"test": "round(datum.value*10) % 2 == 0", "value": -8}, "value": -5}}},
    "order": {"field": "i", "type": "quantitative"},
    "detail": {"field": "b"},
    "fill": {"field": "l", "type": "ordinal", "scale": {"domain": [1,2,3,4,5,6,7], "range": ["#2424ff", "#0090ff", "#00e6f0", "#10d880", "#60d820", "#ffff00", "#ff0000"]}, "legend": null},
    "stroke": {"field": "l", "type": "ordinal", "scale": {"domain": [1,2,3,4,5,6,7], "range": ["#2424ff", "#0090ff", "#00e6f0", "#10d880", "#60d820", "#ffff00", "#ff0000"]}, "legend": null}}},
  {"data": {"name": "labels"}, "transform": [{"filter": "datum.p == 4"}], "mark": {"type": "text", "fontSize": 20.5, "lineBreak": "\n", "lineHeight": 26.7, "align": "center", "baseline": "middle", "color": "#222", "font": "Liberation Sans"},
   "encoding": {
    "x": {"field": "x", "type": "quantitative", "scale": {"domain": [-0.013, 1.045], "nice": false, "zero": false}, "axis": null},
    "y": {"field": "y", "type": "quantitative", "scale": {"domain": [-0.025, 1.05], "nice": false, "zero": false}, "axis": null},
    "text": {"field": "t"}}}
 ]},
 {"width": 408, "height": 252, "resolve": {"axis": {"x": "independent", "y": "independent"}}, "layer": [
  {"data": {"name": "diag"}, "mark": {"type": "line", "color": "#333", "strokeWidth": 1},
   "encoding": {
    "x": {"field": "x", "type": "quantitative", "scale": {"domain": [-0.013, 1.045], "nice": false, "zero": false}, "axis": {"orient": "top", "labels": false, "title": null, "values": [0,0.1,0.2,0.3,0.4,0.5,0.6,0.7,0.8,0.9,1], "tickSize": {"condition": {"test": "round(datum.value*10) % 2 == 0", "value": -7}, "value": -4}}},
    "y": {"field": "y", "type": "quantitative", "scale": {"domain": [-0.025, 1.05], "nice": false, "zero": false}, "axis": {"orient": "right", "labels": false, "title": null, "values": [0,0.1,0.2,0.3,0.4,0.5,0.6,0.7,0.8,0.9,1], "tickSize": {"condition": {"test": "round(datum.value*10) % 2 == 0", "value": -7}, "value": -4}}}}},
  {"data": {"name": "blobs"}, "transform": [{"filter": "datum.p == 5"}], "mark": {"type": "line", "strokeWidth": 0.6},
   "encoding": {
    "x": {"field": "x", "type": "quantitative", "scale": {"domain": [-0.013, 1.045], "nice": false, "zero": false}, "axis": {"orient": "bottom", "title": "Transfer efficiency", "titlePadding": 5, "labelPadding": 13.5, "values": [0,0.1,0.2,0.3,0.4,0.5,0.6,0.7,0.8,0.9,1], "labelExpr": "round(datum.value*10) % 2 == 0 ? format(datum.value, '.1f') : ''", "tickSize": {"condition": {"test": "round(datum.value*10) % 2 == 0", "value": -7}, "value": -4}}},
    "y": {"field": "y", "type": "quantitative", "scale": {"domain": [-0.025, 1.05], "nice": false, "zero": false}, "axis": {"orient": "left", "title": "τᴅᴬ/τᴅ⁰\u2003\u2002and\u2003\u2002τᴅᴰ/τᴅ⁰", "titlePadding": 11, "labelPadding": 9, "values": [0,0.1,0.2,0.3,0.4,0.5,0.6,0.7,0.8,0.9,1], "labelExpr": "round(datum.value*10) % 2 == 0 ? format(datum.value, '.1f') : ''", "tickSize": {"condition": {"test": "round(datum.value*10) % 2 == 0", "value": -7}, "value": -4}}},
    "order": {"field": "i", "type": "quantitative"},
    "detail": {"field": "b"},
    "fill": {"field": "l", "type": "ordinal", "scale": {"domain": [1,2,3,4,5,6,7], "range": ["#2424ff", "#0090ff", "#00e6f0", "#10d880", "#60d820", "#ffff00", "#ff0000"]}, "legend": null},
    "stroke": {"field": "l", "type": "ordinal", "scale": {"domain": [1,2,3,4,5,6,7], "range": ["#2424ff", "#0090ff", "#00e6f0", "#10d880", "#60d820", "#ffff00", "#ff0000"]}, "legend": null}}},
  {"data": {"name": "labels"}, "transform": [{"filter": "datum.p == 5"}], "mark": {"type": "text", "fontSize": 20.5, "lineBreak": "\n", "lineHeight": 26.7, "align": "center", "baseline": "middle", "color": "#222", "font": "Liberation Sans"},
   "encoding": {
    "x": {"field": "x", "type": "quantitative", "scale": {"domain": [-0.013, 1.045], "nice": false, "zero": false}, "axis": null},
    "y": {"field": "y", "type": "quantitative", "scale": {"domain": [-0.025, 1.05], "nice": false, "zero": false}, "axis": null},
    "text": {"field": "t"}}}
 ]},
 {"width": 408, "height": 252, "resolve": {"axis": {"x": "independent", "y": "independent"}}, "layer": [
  {"data": {"name": "diag"}, "mark": {"type": "line", "color": "#333", "strokeWidth": 1},
   "encoding": {
    "x": {"field": "x", "type": "quantitative", "scale": {"domain": [-0.013, 1.045], "nice": false, "zero": false}, "axis": {"orient": "top", "labels": false, "title": null, "values": [0,0.1,0.2,0.3,0.4,0.5,0.6,0.7,0.8,0.9,1], "tickSize": {"condition": {"test": "round(datum.value*10) % 2 == 0", "value": -7}, "value": -4}}},
    "y": {"field": "y", "type": "quantitative", "scale": {"domain": [-0.025, 1.05], "nice": false, "zero": false}, "axis": {"orient": "right", "labels": false, "title": null, "values": [0,0.1,0.2,0.3,0.4,0.5,0.6,0.7,0.8,0.9,1], "tickSize": {"condition": {"test": "round(datum.value*10) % 2 == 0", "value": -8}, "value": -5}}}}},
  {"data": {"name": "blobs"}, "transform": [{"filter": "datum.p == 6"}], "mark": {"type": "line", "strokeWidth": 0.6},
   "encoding": {
    "x": {"field": "x", "type": "quantitative", "scale": {"domain": [-0.013, 1.045], "nice": false, "zero": false}, "axis": {"orient": "bottom", "title": "Transfer efficiency", "titlePadding": 5, "labelPadding": 13.5, "values": [0,0.1,0.2,0.3,0.4,0.5,0.6,0.7,0.8,0.9,1], "labelExpr": "round(datum.value*10) % 2 == 0 ? format(datum.value, '.1f') : ''", "tickSize": {"condition": {"test": "round(datum.value*10) % 2 == 0", "value": -7}, "value": -4}}},
    "y": {"field": "y", "type": "quantitative", "scale": {"domain": [-0.025, 1.05], "nice": false, "zero": false}, "axis": {"orient": "left", "title": "τᴅᴬ/τᴅ⁰\u2003\u2002and\u2003\u2002τᴅᴰ/τᴅ⁰", "titlePadding": 11, "labelPadding": 10, "values": [0,0.1,0.2,0.3,0.4,0.5,0.6,0.7,0.8,0.9,1], "labelExpr": "round(datum.value*10) % 2 == 0 ? format(datum.value, '.1f') : ''", "tickSize": {"condition": {"test": "round(datum.value*10) % 2 == 0", "value": -8}, "value": -5}}},
    "order": {"field": "i", "type": "quantitative"},
    "detail": {"field": "b"},
    "fill": {"field": "l", "type": "ordinal", "scale": {"domain": [1,2,3,4,5,6,7], "range": ["#2424ff", "#0090ff", "#00e6f0", "#10d880", "#60d820", "#ffff00", "#ff0000"]}, "legend": null},
    "stroke": {"field": "l", "type": "ordinal", "scale": {"domain": [1,2,3,4,5,6,7], "range": ["#2424ff", "#0090ff", "#00e6f0", "#10d880", "#60d820", "#ffff00", "#ff0000"]}, "legend": null}}},
  {"data": {"name": "labels"}, "transform": [{"filter": "datum.p == 6"}], "mark": {"type": "text", "fontSize": 20.5, "lineBreak": "\n", "lineHeight": 26.7, "align": "center", "baseline": "middle", "color": "#222", "font": "Liberation Sans"},
   "encoding": {
    "x": {"field": "x", "type": "quantitative", "scale": {"domain": [-0.013, 1.045], "nice": false, "zero": false}, "axis": null},
    "y": {"field": "y", "type": "quantitative", "scale": {"domain": [-0.025, 1.05], "nice": false, "zero": false}, "axis": null},
    "text": {"field": "t"}}}
 ]}
]
}
